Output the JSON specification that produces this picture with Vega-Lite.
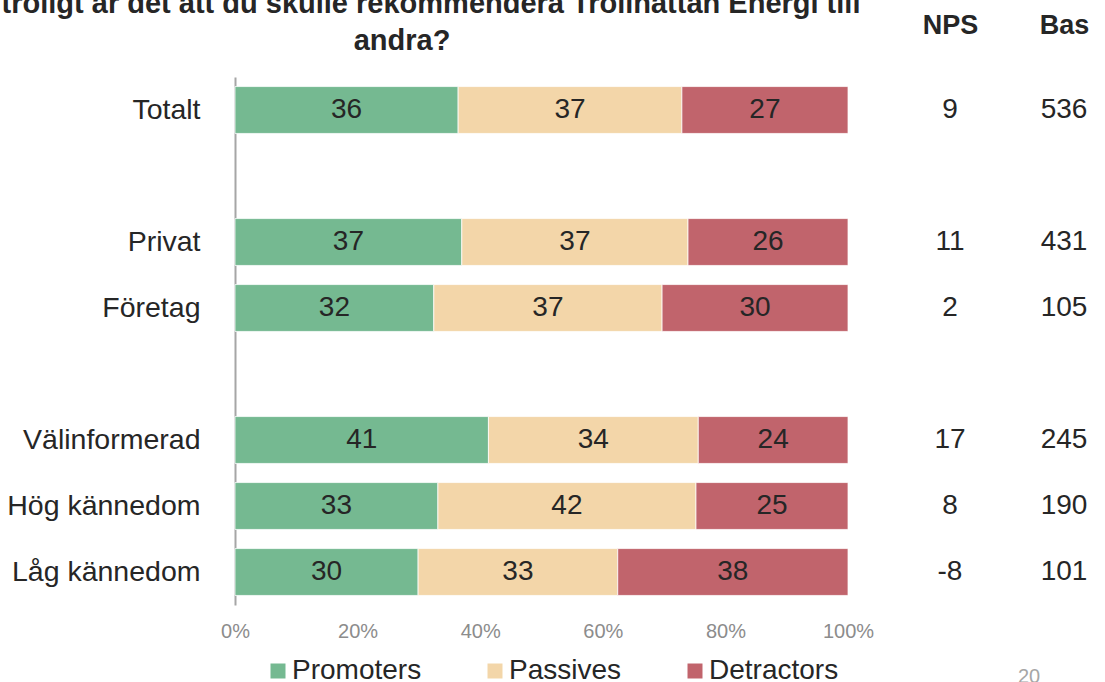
{
  "$schema": "https://vega.github.io/schema/vega-lite/v6.json",
  "autosize": {"type": "pad"},
  "padding": {"left": -57, "top": -10, "right": 0, "bottom": 0},
  "background": "white",
  "bounds": "flush",
  "spacing": 45,
  "config": {
    "view": {"stroke": null},
    "font": "Liberation Sans",
    "text": {"font": "Liberation Sans"},
    "locale": {"number": {"decimal": ".", "thousands": " ", "grouping": [3], "currency": ["", " kr"], "minus": "-", "percent": "%"}}
  },
  "title": {
    "text": ["Hur troligt är det att du skulle rekommendera Trollhättan Energi till", "andra?"],
    "fontSize": 29,
    "fontWeight": "bold",
    "color": "#262626",
    "lineHeight": 37,
    "anchor": "start",
    "align": "center",
    "dx": 167,
    "dy": 49,
    "frame": "group"
  },
  "datasets": {
    "staplar": [
      {"grupp": "Totalt", "typ": "Promoters", "andel": 36.4},
      {"grupp": "Totalt", "typ": "Passives", "andel": 36.5},
      {"grupp": "Totalt", "typ": "Detractors", "andel": 27.1},
      {"grupp": "Privat", "typ": "Promoters", "andel": 37.0},
      {"grupp": "Privat", "typ": "Passives", "andel": 36.9},
      {"grupp": "Privat", "typ": "Detractors", "andel": 26.1},
      {"grupp": "Företag", "typ": "Promoters", "andel": 32.4},
      {"grupp": "Företag", "typ": "Passives", "andel": 37.2},
      {"grupp": "Företag", "typ": "Detractors", "andel": 30.3},
      {"grupp": "Välinformerad", "typ": "Promoters", "andel": 41.3},
      {"grupp": "Välinformerad", "typ": "Passives", "andel": 34.2},
      {"grupp": "Välinformerad", "typ": "Detractors", "andel": 24.4},
      {"grupp": "Hög kännedom", "typ": "Promoters", "andel": 33.1},
      {"grupp": "Hög kännedom", "typ": "Passives", "andel": 42.1},
      {"grupp": "Hög kännedom", "typ": "Detractors", "andel": 24.8},
      {"grupp": "Låg kännedom", "typ": "Promoters", "andel": 29.9},
      {"grupp": "Låg kännedom", "typ": "Passives", "andel": 32.6},
      {"grupp": "Låg kännedom", "typ": "Detractors", "andel": 37.6}
    ],
    "tabell": [
      {"grupp": "Totalt", "kolumn": "NPS", "varde": 9},
      {"grupp": "Totalt", "kolumn": "Bas", "varde": 536},
      {"grupp": "Privat", "kolumn": "NPS", "varde": 11},
      {"grupp": "Privat", "kolumn": "Bas", "varde": 431},
      {"grupp": "Företag", "kolumn": "NPS", "varde": 2},
      {"grupp": "Företag", "kolumn": "Bas", "varde": 105},
      {"grupp": "Välinformerad", "kolumn": "NPS", "varde": 17},
      {"grupp": "Välinformerad", "kolumn": "Bas", "varde": 245},
      {"grupp": "Hög kännedom", "kolumn": "NPS", "varde": 8},
      {"grupp": "Hög kännedom", "kolumn": "Bas", "varde": 190},
      {"grupp": "Låg kännedom", "kolumn": "NPS", "varde": -8},
      {"grupp": "Låg kännedom", "kolumn": "Bas", "varde": 101}
    ]
  },
  "hconcat": [
    {
      "width": 613,
      "height": 528,
      "data": {"name": "staplar"},
      "transform": [
        {"calculate": "indexof(['Promoters','Passives','Detractors'], datum.typ)", "as": "ordning"}
      ],
      "encoding": {
        "y": {
          "field": "grupp",
          "type": "nominal",
          "scale": {
            "domain": ["Totalt", " ", "Privat", "Företag", "  ", "Välinformerad", "Hög kännedom", "Låg kännedom"],
            "paddingInner": 0.29,
            "paddingOuter": 0.145
          },
          "axis": {
            "title": null,
            "ticks": false,
            "labelFontSize": 28.5,
            "labelColor": "#262626",
            "labelFont": "Liberation Sans",
            "labelPadding": 35,
            "domainColor": "#a6a6a6",
            "domainWidth": 2,
            "labelLimit": 400
          }
        },
        "x": {
          "field": "andel",
          "type": "quantitative",
          "stack": "normalize",
          "scale": {"domain": [0, 1]},
          "axis": {
            "title": null,
            "values": [0, 0.2, 0.4, 0.6, 0.8, 1],
            "format": ".0%",
            "grid": false,
            "domain": false,
            "ticks": false,
            "labelFontSize": 20,
            "labelColor": "#8c8c8c",
            "labelFont": "Liberation Sans",
            "labelPadding": 16,
            "labelFlush": false
          }
        },
        "order": {"field": "ordning", "type": "quantitative"}
      },
      "layer": [
        {
          "mark": {"type": "bar", "stroke": "#ffffff", "strokeWidth": 0.75},
          "encoding": {
            "color": {
              "field": "typ",
              "type": "nominal",
              "scale": {
                "domain": ["Promoters", "Passives", "Detractors"],
                "range": ["#75B991", "#F3D6A9", "#C1646C"]
              },
              "legend": {
                "title": null,
                "orient": "none",
                "direction": "horizontal",
                "legendX": 29,
                "legendY": 580,
                "symbolType": "square",
                "symbolSize": 225,
                "symbolStrokeWidth": 0,
                "labelFontSize": 28,
                "labelColor": "#262626",
                "labelFont": "Liberation Sans",
                "labelOffset": 0,
                "columnPadding": 59,
                "labelLimit": 300
              }
            }
          }
        },
        {
          "mark": {"type": "text", "fontSize": 28, "color": "#262626", "font": "Liberation Sans"},
          "encoding": {
            "x": {"field": "andel", "type": "quantitative", "stack": "normalize", "bandPosition": 0.5},
            "detail": {"field": "typ", "type": "nominal"},
            "text": {"field": "andel", "type": "quantitative", "format": ".0f"}
          }
        }
      ]
    },
    {
      "width": 228,
      "height": 528,
      "title": {
        "text": "20",
        "orient": "bottom",
        "anchor": "start",
        "dx": 125,
        "offset": 62,
        "fontSize": 20,
        "fontWeight": "normal",
        "color": "#a6a6a6"
      },
      "data": {"name": "tabell"},
      "mark": {"type": "text", "fontSize": 28, "color": "#262626", "font": "Liberation Sans"},
      "encoding": {
        "y": {
          "field": "grupp",
          "type": "nominal",
          "scale": {
            "domain": ["Totalt", " ", "Privat", "Företag", "  ", "Välinformerad", "Hög kännedom", "Låg kännedom"],
            "paddingInner": 0.29,
            "paddingOuter": 0.145
          },
          "axis": null
        },
        "x": {
          "field": "kolumn",
          "type": "nominal",
          "scale": {"domain": ["NPS", "Bas"], "paddingInner": 0, "paddingOuter": 0},
          "axis": {
            "orient": "top",
            "title": null,
            "domain": false,
            "ticks": false,
            "labelFontSize": 27,
            "labelFontWeight": "bold",
            "labelColor": "#262626",
            "labelFont": "Liberation Sans",
            "labelBaseline": "alphabetic",
            "labelPadding": 44,
            "labelAngle": 0
          }
        },
        "text": {"field": "varde", "type": "quantitative", "format": "d"}
      }
    }
  ]
}
